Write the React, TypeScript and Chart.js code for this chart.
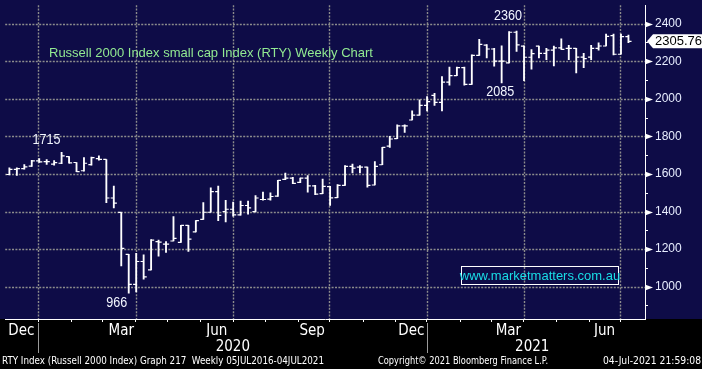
import React, { useEffect, useRef } from 'react';
import { Chart, registerables } from 'chart.js';

Chart.register(...registerables);

// Weekly OHLC bars of the Russell 2000 (RTY); first bar is week index -5 (early Dec 2019),
// week 0 is the first week of January 2020.
const FIRST_WEEK = -5;
const opens = [
  1600, 1597, 1624, 1628, 1642, 1670, 1666, 1652, 1657, 1692, 1661, 1617, 1650, 1682,
  1677, 1472, 1395, 1172, 1012, 1134, 1089, 1240, 1226, 1243, 1236, 1326, 1292, 1358,
  1396, 1506, 1400, 1412, 1382, 1432, 1399, 1464, 1466, 1482, 1571, 1578, 1555, 1578,
  1537, 1495, 1532, 1474, 1539, 1640, 1636, 1636, 1541, 1649, 1748, 1788, 1856, 1887,
  1913, 1965, 2018, 1981, 2089, 2123, 2166, 2077, 2231, 2285, 2265, 2200, 2191, 2354,
  2280, 2221, 2280, 2242, 2259, 2271, 2268, 2268, 2222, 2222, 2268, 2281, 2336, 2237, 2331,
];
const highs = [
  1612, 1633, 1633, 1650, 1672, 1682, 1677, 1671, 1715, 1692, 1661, 1687, 1690, 1696,
  1677, 1536, 1395, 1172, 1178, 1170, 1250, 1248, 1240, 1373, 1326, 1326, 1352, 1448,
  1526, 1536, 1460, 1450, 1456, 1456, 1485, 1503, 1500, 1566, 1604, 1582, 1578, 1591,
  1540, 1573, 1534, 1544, 1644, 1652, 1645, 1636, 1666, 1741, 1800, 1861, 1861, 1936,
  1995, 2012, 2029, 2118, 2169, 2169, 2169, 2234, 2316, 2289, 2268, 2282, 2357, 2360,
  2282, 2262, 2280, 2268, 2280, 2319, 2285, 2268, 2242, 2285, 2298, 2344, 2344, 2344, 2339,
];
const lows = [
  1585, 1595, 1592, 1625, 1640, 1661, 1650, 1647, 1654, 1657, 1612, 1615, 1647, 1673,
  1447, 1419, 1110, 966, 972, 1040, 1089, 1162, 1182, 1243, 1236, 1188, 1292, 1358,
  1396, 1351, 1345, 1375, 1381, 1386, 1398, 1461, 1461, 1481, 1570, 1548, 1554, 1503,
  1490, 1495, 1433, 1474, 1539, 1605, 1605, 1530, 1541, 1649, 1741, 1788, 1821, 1887,
  1913, 1936, 1965, 1935, 2072, 2123, 2072, 2077, 2231, 2217, 2174, 2085, 2191, 2252,
  2096, 2157, 2217, 2208, 2175, 2263, 2208, 2137, 2166, 2208, 2259, 2281, 2234, 2237, 2298,
];
const closes = [
  1590, 1624, 1628, 1638, 1670, 1664, 1666, 1660, 1696, 1659, 1612, 1657, 1687, 1677,
  1472, 1445, 1204, 1012, 1134, 1052, 1248, 1237, 1226, 1257, 1326, 1253, 1352, 1396,
  1506, 1380, 1412, 1382, 1432, 1419, 1472, 1464, 1480, 1566, 1578, 1550, 1578, 1536,
  1493, 1534, 1473, 1539, 1640, 1631, 1636, 1539, 1640, 1741, 1786, 1856, 1856, 1913,
  1965, 1985, 1981, 2089, 2123, 2166, 2077, 2231, 2289, 2265, 2200, 2200, 2354, 2287,
  2221, 2240, 2242, 2259, 2271, 2263, 2268, 2222, 2214, 2268, 2281, 2332, 2237, 2331, 2305.762,
];
const LAST_PRICE = 2305.762;

const priceTicks = [1000, 1200, 1400, 1600, 1800, 2000, 2200, 2400];
const priceMinorTicks = [900, 1100, 1300, 1500, 1700, 1900, 2100, 2300];
const quarterGridWeeks = [-0.13, 12.95, 26.03, 38.9, 51.96, 64.95, 77.9];
const monthTickWeeks = [-0.13, 4.3, 8.44, 12.95, 17.16, 21.58, 26.03, 30.3, 34.73, 38.9, 43.44, 47.73, 51.96, 56.5, 60.6, 64.95, 69.3, 73.73, 77.9];
const monthLabels = ['Dec', 'Mar', 'Jun', 'Sep', 'Dec', 'Mar', 'Jun'];
const monthLabelWeeks = [-2.4, 11.0, 23.8, 36.6, 49.9, 62.9, 75.8];
const yearLabels = ['2020', '2021'];
const yearLabelWeeks = [25.96, 66.1];
const yearBreakWeeks = [-0.13, 51.96];

const extremeLabels = ['1715', '966', '2360', '2085'];
const extremeWeeks = [0.96, 10.4, 62.86, 61.8];
const extremeValues = [1781, 912, 2440, 2037];

const TITLE = 'Russell 2000 Index small cap Index (RTY) Weekly Chart';
const WATERMARK = 'www.marketmatters.com.au';
const FOOTER_LEFT = 'RTY Index (Russell 2000 Index) Graph 217  Weekly 05JUL2016-04JUL2021';
const FOOTER_MID = 'Copyright\u00a9 2021 Bloomberg Finance L.P.';
const FOOTER_RIGHT = '04-Jul-2021 21:59:08';

const NAVY = '#0e0c47';
const GRID = '#8c8c8c';
const SANS = '"Liberation Sans", Arial, sans-serif';
const NARROW = '"Liberation Sans Narrow", "DejaVu Sans Condensed", "Liberation Sans", sans-serif';
const X_MIN = -4.562;
const X_MAX = 81.22;

const decor = {
  id: 'decor',
  beforeDraw(chart: any) {
    const { ctx, width, height, chartArea } = chart;
    ctx.save();
    ctx.fillStyle = '#000';
    ctx.fillRect(0, 0, width, height);
    ctx.fillStyle = NAVY;
    ctx.fillRect(0, 0, width, chartArea.bottom);
    ctx.restore();
  },
  beforeDatasetsDraw(chart: any) {
    // dotted grid at the tick positions of the x (quarters) and y (prices) scales
    const { ctx, chartArea } = chart;
    const x = chart.scales.x;
    const y = chart.scales.y;
    ctx.save();
    ctx.strokeStyle = GRID;
    ctx.lineWidth = 1.4;
    ctx.setLineDash([2, 1.4]);
    x.ticks.forEach((t: any) => {
      const px = Math.round(x.getPixelForValue(t.value)) + 0.5;
      ctx.beginPath();
      ctx.moveTo(px, chartArea.top);
      ctx.lineTo(px, chartArea.bottom);
      ctx.stroke();
    });
    y.ticks.forEach((t: any) => {
      const py = Math.round(y.getPixelForValue(t.value)) + 0.5;
      ctx.beginPath();
      ctx.moveTo(chartArea.left, py);
      ctx.lineTo(chartArea.right, py);
      ctx.stroke();
    });
    ctx.restore();
  },
  afterDraw(chart: any) {
    const { ctx, chartArea, width } = chart;
    const x = chart.scales.x;
    const y = chart.scales.y;
    ctx.save();
    ctx.fillStyle = '#fff';
    ctx.strokeStyle = '#fff';
    ctx.lineWidth = 1;
    const ax = chartArea.right;
    priceTicks.forEach((v) => {
      const py = Math.round(y.getPixelForValue(v)) + 0.5;
      ctx.beginPath();
      ctx.moveTo(ax, py - 3);
      ctx.lineTo(ax + 8, py);
      ctx.lineTo(ax, py + 3);
      ctx.closePath();
      ctx.fill();
    });
    priceMinorTicks.forEach((v) => {
      const py = Math.round(y.getPixelForValue(v)) + 0.5;
      ctx.beginPath();
      ctx.moveTo(ax, py);
      ctx.lineTo(ax + 3, py);
      ctx.stroke();
    });
    const ly = y.getPixelForValue(LAST_PRICE);
    ctx.beginPath();
    ctx.moveTo(ax + 2, ly);
    ctx.lineTo(ax + 8, ly - 7);
    ctx.lineTo(width, ly - 7);
    ctx.lineTo(width, ly + 7);
    ctx.lineTo(ax + 8, ly + 7);
    ctx.closePath();
    ctx.fillStyle = '#fff';
    ctx.fill();
    ctx.fillStyle = '#000';
    ctx.font = `13px ${SANS}`;
    ctx.textBaseline = 'middle';
    ctx.textAlign = 'left';
    ctx.fillText(LAST_PRICE.toFixed(3), ax + 10, ly + 0.5);

    ctx.fillStyle = '#92ea92';
    ctx.font = `13px ${SANS}`;
    ctx.fillText(TITLE, 49, 53);

    ctx.fillStyle = '#f2f6ff';
    ctx.font = `14px ${SANS}`;
    ctx.textAlign = 'center';
    extremeLabels.forEach((t, i) => {
      ctx.fillText(t, x.getPixelForValue(extremeWeeks[i]), y.getPixelForValue(extremeValues[i]), 7 * t.length);
    });

    ctx.strokeStyle = '#fff';
    ctx.strokeRect(461.5, 266.5, 157, 18);
    ctx.fillStyle = '#19dde6';
    ctx.font = `13px ${SANS}`;
    ctx.fillText(WATERMARK, 540, 276);

    ctx.strokeStyle = '#9a9a9a';
    yearBreakWeeks.forEach((w) => {
      const px = Math.round(x.getPixelForValue(w)) + 0.5;
      ctx.beginPath();
      ctx.moveTo(px, chartArea.bottom + 4);
      ctx.lineTo(px, chartArea.bottom + 34);
      ctx.stroke();
    });

    ctx.fillStyle = '#fff';
    ctx.font = `11px ${NARROW}`;
    ctx.textAlign = 'left';
    ctx.fillText(FOOTER_LEFT, 2, 361, 322);
    ctx.fillText(FOOTER_MID, 378, 361, 170);
    ctx.textAlign = 'right';
    ctx.fillText(FOOTER_RIGHT, 701, 361, 98);
    ctx.restore();
  },
};

export default function App() {
  const ref = useRef<HTMLCanvasElement | null>(null);

  useEffect(() => {
    document.body.style.margin = '0';
    const canvas = ref.current;
    if (!canvas) return;

    const bars = highs.map((h, i) => ({ x: FIRST_WEEK + i, y: [lows[i], h] }));
    const openPts = opens.map((o, i) => ({ x: FIRST_WEEK + i - 0.2, y: o }));
    const closePts = closes.map((c, i) => ({ x: FIRST_WEEK + i + 0.2, y: c }));

    const fixH = (h: number) => (s: any) => {
      s.height = h;
      s.paddingLeft = 0;
      s.paddingRight = 0;
    };

    const xBase = (extra: any) => ({
      type: 'linear',
      position: 'bottom',
      bounds: 'data',
      offset: false,
      min: X_MIN,
      max: X_MAX,
      ...extra,
    });

    const tickStyle = {
      pointStyle: 'line',
      pointRadius: 1.6,
      borderColor: '#ffffff',
      borderWidth: 1.2,
    };

    const chart = new Chart(canvas, {
      type: 'bar',
      data: {
        datasets: [
          {
            type: 'bar',
            data: bars as any,
            backgroundColor: '#ffffff',
            borderWidth: 0,
            barThickness: 1.2,
            grouped: false,
          } as any,
          { type: 'scatter', data: openPts, ...tickStyle } as any,
          { type: 'scatter', data: closePts, ...tickStyle } as any,
        ],
      },
      options: {
        animation: false,
        responsive: true,
        maintainAspectRatio: false,
        events: [],
        layout: { padding: { left: 0, right: 0, top: 0, bottom: 14 } },
        plugins: { legend: { display: false }, tooltip: { enabled: false }, title: { display: false } },
        scales: {
          x: xBase({
            afterBuildTicks: (s: any) => {
              s.ticks = quarterGridWeeks.map((v) => ({ value: v }));
            },
            grid: { display: false, drawTicks: false, offset: false },
            border: { display: true, color: '#ffffff', width: 1 },
            ticks: { display: false },
            afterFit: fixH(0),
          }),
          xm: xBase({
            afterBuildTicks: (s: any) => {
              s.ticks = monthTickWeeks.map((v) => ({ value: v }));
            },
            grid: { drawOnChartArea: false, drawTicks: true, tickLength: 3, tickColor: '#ffffff', color: '#ffffff', offset: false },
            border: { display: false },
            ticks: { display: false },
            afterFit: fixH(3),
          }),
          xl: xBase({
            afterBuildTicks: (s: any) => {
              s.ticks = monthLabelWeeks.map((v) => ({ value: v }));
            },
            grid: { display: false, drawTicks: false, offset: false },
            border: { display: false },
            ticks: {
              color: '#ffffff',
              autoSkip: false,
              maxRotation: 0,
              padding: 0,
              font: { family: NARROW, size: 15 },
              callback: (_v: any, i: number) => monthLabels[i],
            },
            afterFit: fixH(15),
          }),
          xy: xBase({
            afterBuildTicks: (s: any) => {
              s.ticks = yearLabelWeeks.map((v) => ({ value: v }));
            },
            grid: { display: false, drawTicks: false, offset: false },
            border: { display: false },
            ticks: {
              color: '#ffffff',
              autoSkip: false,
              maxRotation: 0,
              padding: 1,
              font: { family: NARROW, size: 15 },
              callback: (_v: any, i: number) => yearLabels[i],
            },
            afterFit: fixH(18),
          }),
          y: {
            type: 'linear',
            position: 'right',
            min: 828,
            max: 2498,
            afterBuildTicks: (s: any) => {
              s.ticks = priceTicks.map((v) => ({ value: v }));
            },
            grid: { display: false, drawTicks: false },
            border: { display: true, color: '#ffffff', width: 1 },
            ticks: {
              color: '#e8eeff',
              padding: 10,
              font: { family: SANS, size: 12 },
              callback: (v: any) => String(v),
            },
            afterFit: (s: any) => {
              s.width = 57;
              s.paddingTop = 0;
              s.paddingBottom = 0;
            },
          },
        },
      },
      plugins: [decor],
    } as any);

    return () => chart.destroy();
  }, []);

  return (
    <div style={{ width: 702, height: 369, position: 'relative' }}>
      <canvas ref={ref} />
    </div>
  );
}
